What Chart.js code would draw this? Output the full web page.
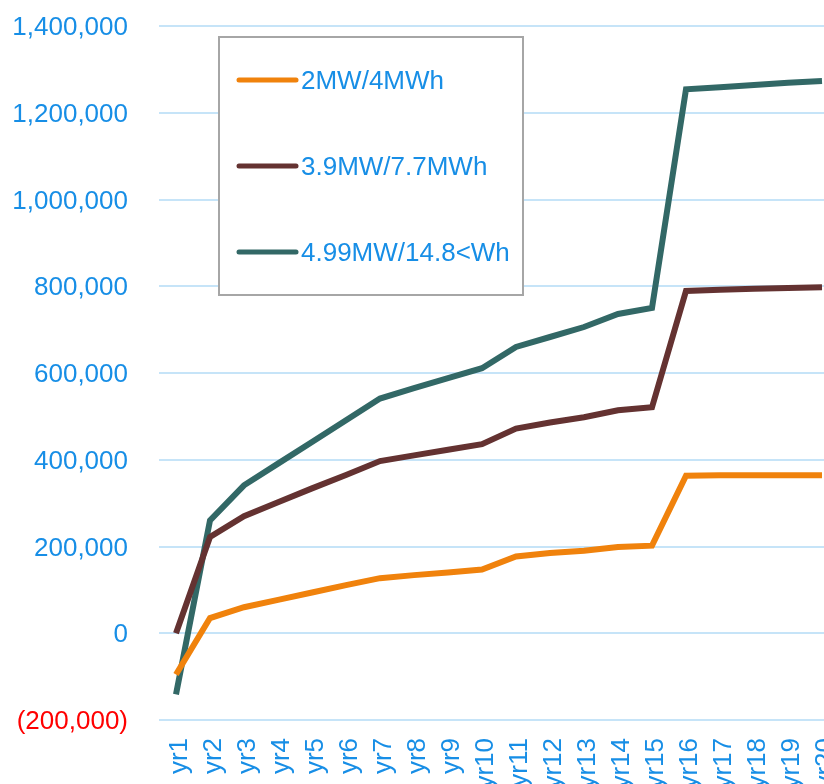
<!DOCTYPE html>
<html>
<head>
<meta charset="utf-8">
<style>
  html, body { margin: 0; padding: 0; background: #ffffff; overflow: hidden; }
  #wrap { width: 824px; height: 784px; overflow: hidden; }
  canvas { display: block; }
</style>
<script src="https://cdn.jsdelivr.net/npm/chart.js@4/dist/chart.umd.min.js"></script>
</head>
<body>
<div id="wrap"><canvas id="c" width="874" height="800"></canvas></div>
<script>
// Cumulative net value by project year for three storage sizes
const years = ['yr1','yr2','yr3','yr4','yr5','yr6','yr7','yr8','yr9','yr10',
               'yr11','yr12','yr13','yr14','yr15','yr16','yr17','yr18','yr19','yr20'];

const seriesNames = ['2MW/4MWh', '3.9MW/7.7MWh', '4.99MW/14.8<Wh'];

const small = [-95000, 35000, 60000, 77000, 94000, 111000, 127000, 134000, 140000, 147000,
               177000, 185000, 190000, 199000, 202000, 363000, 364000, 364500, 364500, 364000];

const medium = [0, 222000, 270000, 302000, 334000, 365000, 397000, 410000, 423000, 436000,
                472000, 486000, 498000, 514000, 521000, 789000, 792000, 794000, 796000, 797500];

const large = [-141000, 260000, 341000, 391000, 441000, 491000, 541000, 565000, 588000, 611000,
               660000, 683000, 706000, 736000, 750000, 1254000, 1259000, 1264000, 1269000, 1273000];

const yMin = -200000, yMax = 1400000, yStep = 200000;

const lineColors = ['#f0820c', '#643231', '#326866'];
const textBlue = '#178ee6';
const negRed = '#ff0000';
const gridBlue = '#c6e4f8';
const FONT = '"Liberation Sans", Arial, sans-serif';

function fmt(v) {
  const s = Math.abs(v).toLocaleString('en-US');
  return v < 0 ? '(' + s + ')' : s;
}

// Boxed legend drawn inside the plot area
const boxLegend = {
  id: 'boxLegend',
  afterDatasetsDraw(chart) {
    const ctx = chart.ctx;
    const bx = 219, by = 37, bw = 304, bh = 258;
    ctx.save();
    ctx.fillStyle = '#ffffff';
    ctx.fillRect(bx, by, bw, bh);
    ctx.strokeStyle = '#a6a6a6';
    ctx.lineWidth = 2;
    ctx.strokeRect(bx, by, bw, bh);
    const rows = [80, 166, 252];
    chart.data.datasets.forEach((ds, i) => {
      const y = rows[i];
      ctx.strokeStyle = ds.borderColor;
      ctx.lineWidth = 5;
      ctx.lineCap = 'round';
      ctx.beginPath();
      ctx.moveTo(239, y);
      ctx.lineTo(296, y);
      ctx.stroke();
      ctx.fillStyle = textBlue;
      ctx.font = '26px ' + FONT;
      ctx.textAlign = 'left';
      ctx.textBaseline = 'middle';
      ctx.fillText(ds.label, 301, y + 2);
    });
    ctx.restore();
  }
};

new Chart(document.getElementById('c'), {
  type: 'line',
  data: {
    labels: years,
    datasets: [small, medium, large].map((vals, i) => ({
      label: seriesNames[i],
      data: vals,
      borderColor: lineColors[i],
      backgroundColor: lineColors[i],
      borderWidth: 6,
      pointRadius: 0,
      tension: 0,
      fill: false
    }))
  },
  options: {
    responsive: false,
    animation: false,
    devicePixelRatio: 1,
    layout: { padding: { top: 26, right: 35, left: 0, bottom: 0 } },
    plugins: { legend: { display: false }, tooltip: { enabled: false } },
    scales: {
      x: {
        offset: true,
        grid: { display: false, drawTicks: false },
        border: { display: false },
        ticks: {
          color: textBlue,
          font: { family: FONT, size: 26 },
          minRotation: 90,
          maxRotation: 90,
          autoSkip: false,
          padding: 18,
          labelOffset: 4
        },
        afterFit(scale) {
          scale.height = 80;
          scale.paddingLeft = 0;
          scale.paddingRight = 0;
        }
      },
      y: {
        min: yMin,
        max: yMax,
        grid: { color: gridBlue, lineWidth: 2, drawTicks: false },
        border: { display: false },
        ticks: {
          stepSize: yStep,
          padding: 31,
          labelOffset: 2,
          font: { family: FONT, size: 26 },
          color: (c) => (c.tick && c.tick.value < 0 ? negRed : textBlue),
          callback: (v) => fmt(v)
        },
        afterFit(scale) {
          scale.width = 159;
          scale.paddingTop = 0;
          scale.paddingBottom = 0;
        }
      }
    }
  },
  plugins: [boxLegend]
});
</script>
</body>
</html>
